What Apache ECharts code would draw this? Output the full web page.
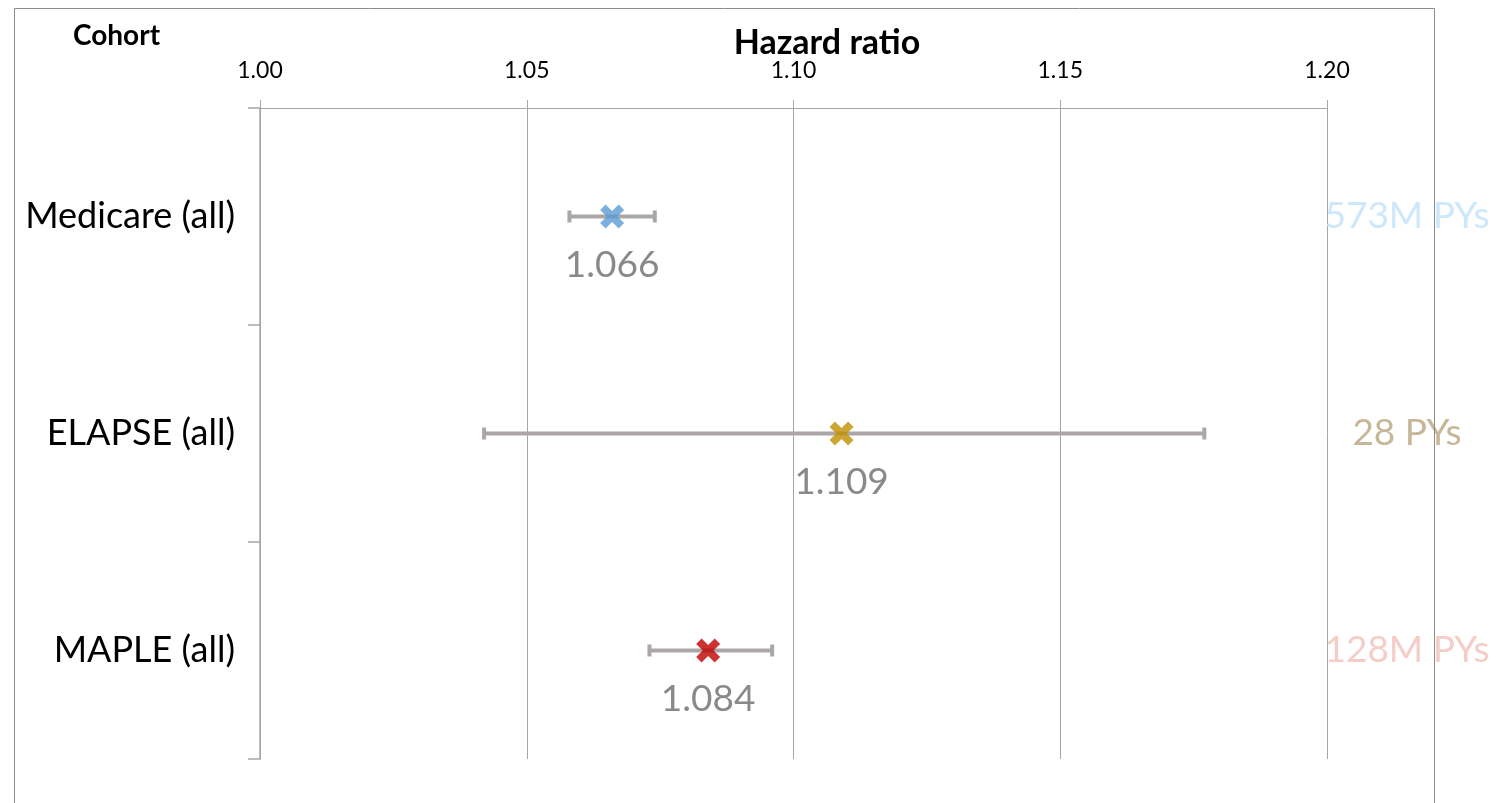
<!DOCTYPE html>
<html>
<head>
<meta charset="utf-8">
<title>Hazard ratio by cohort</title>
<script src="https://cdn.jsdelivr.net/npm/echarts@6/dist/echarts.min.js"></script>
<style>
  html, body { margin: 0; padding: 0; background: #fff; }
  #chart { width: 1504px; height: 803px; }
</style>
</head>
<body>
<div id="chart"></div>
<script>
// Cohorts, point estimates and 95% confidence limits
const cohorts = ['Medicare (all)', 'ELAPSE (all)', 'MAPLE (all)'];
const hazardRatio = [1.066, 1.109, 1.084];
const ciLow = [1.058, 1.042, 1.073];
const ciHigh = [1.074, 1.177, 1.096];
const personYears = ['573M PYs', '28 PYs', '128M PYs'];
const markerColors = ['#5B9BD5', '#BF9000', '#C00000'];
const pyColors = ['#CCE8FA', '#C6B798', '#F4CDC8'];

const FONT = 'Lato, "Open Sans", sans-serif';
const GRID_GRAY = '#A6A6A6';
const BAR_GRAY = '#ABA7A7';

// Bold X marker
const crossPath = 'path://M4.5,0 L10,5.5 L15.5,0 L20,4.5 L14.5,10 L20,15.5 L15.5,20 L10,14.5 L4.5,20 L0,15.5 L5.5,10 L0,4.5 Z';

const chart = echarts.init(document.getElementById('chart'), null, { renderer: 'canvas' });

const intervalData = cohorts.map((c, i) => [ciLow[i], ciHigh[i], i]);
const pointData = cohorts.map((c, i) => ({
  value: [hazardRatio[i], i],
  itemStyle: { color: markerColors[i] }
}));

chart.setOption({
  animation: false,
  backgroundColor: '#fff',
  grid: { left: 260, right: 177, top: 108, bottom: 44, containLabel: false },
  xAxis: {
    type: 'value',
    position: 'top',
    min: 1.0,
    max: 1.2,
    interval: 0.05,
    axisLine: { show: true, lineStyle: { color: GRID_GRAY, width: 1 } },
    axisTick: { show: true, inside: false, length: 8, lineStyle: { color: GRID_GRAY } },
    axisLabel: {
      fontFamily: FONT, fontSize: 23, color: '#000', margin: 26,
      formatter: v => v.toFixed(2)
    },
    splitLine: { show: true, lineStyle: { color: GRID_GRAY, width: 1 } }
  },
  yAxis: [
    {
      type: 'category',
      data: cohorts,
      inverse: true,
      boundaryGap: true,
      axisLine: { show: true, lineStyle: { color: GRID_GRAY, width: 1.5 } },
      axisTick: { show: true, length: 12, lineStyle: { color: GRID_GRAY, width: 1.5 } },
      axisLabel: { fontFamily: FONT, fontSize: 36, color: '#000', margin: 25 },
      splitLine: { show: false }
    },
    {
      type: 'category',
      data: personYears,
      inverse: true,
      position: 'right',
      axisLine: { show: false },
      axisTick: { show: false },
      axisLabel: {
        fontFamily: FONT, fontSize: 37, margin: 80, align: 'center',
        formatter: (v, i) => '{p' + i + '|' + v + '}',
        rich: {
          p0: { color: pyColors[0], fontFamily: FONT, fontSize: 37 },
          p1: { color: pyColors[1], fontFamily: FONT, fontSize: 37 },
          p2: { color: pyColors[2], fontFamily: FONT, fontSize: 37 }
        }
      },
      splitLine: { show: false }
    }
  ],
  graphic: [
    {
      type: 'text', left: 73, top: 22, z: 10,
      style: { text: 'Cohort', fontFamily: FONT, fontSize: 28, fontWeight: 'bold', fill: '#000' }
    },
    {
      type: 'text', x: 827, y: 43, z: 10,
      style: {
        text: 'Hazard ratio', fontFamily: FONT, fontSize: 34, fontWeight: 'bold', fill: '#000',
        align: 'center', verticalAlign: 'middle'
      }
    },
    {
      type: 'rect', z: 100, silent: true,
      shape: { x: 14.5, y: 8.5, width: 1420, height: 820 },
      style: { fill: 'none', stroke: '#8C8C8C', lineWidth: 1 }
    }
  ],
  series: [
    {
      type: 'custom',
      name: 'CI',
      z: 2,
      data: intervalData,
      encode: { x: [0, 1], y: 2 },
      renderItem: (params, api) => {
        const idx = api.value(2);
        const p0 = api.coord([api.value(0), idx]);
        const p1 = api.coord([api.value(1), idx]);
        const cap = 6;
        const style = { stroke: BAR_GRAY, lineWidth: 4, fill: 'none' };
        return {
          type: 'group',
          children: [
            { type: 'line', shape: { x1: p0[0], y1: p0[1], x2: p1[0], y2: p1[1] }, style },
            { type: 'line', shape: { x1: p0[0], y1: p0[1] - cap, x2: p0[0], y2: p0[1] + cap }, style },
            { type: 'line', shape: { x1: p1[0], y1: p1[1] - cap, x2: p1[0], y2: p1[1] + cap }, style }
          ]
        };
      }
    },
    {
      type: 'scatter',
      name: 'Hazard ratio',
      z: 3,
      symbol: crossPath,
      symbolSize: 24,
      data: pointData,
      label: {
        show: true,
        position: 'bottom',
        distance: 18,
        fontFamily: FONT,
        fontSize: 37,
        color: '#6E6A6A',
        formatter: p => p.value[0].toFixed(3)
      }
    }
  ]
});
</script>
</body>
</html>
